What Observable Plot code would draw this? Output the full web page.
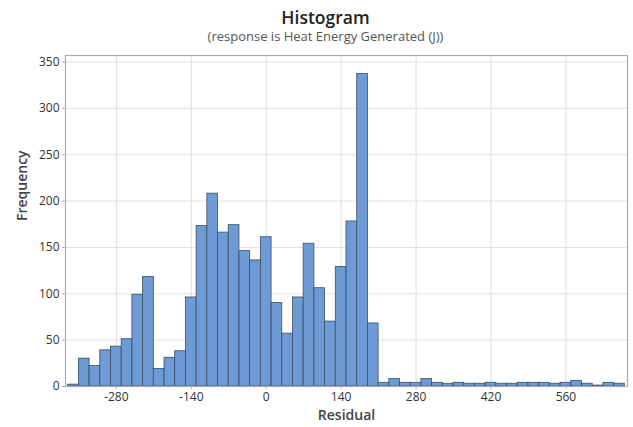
<!DOCTYPE html>
<html>
<head>
<meta charset="utf-8">
<script src="https://cdn.jsdelivr.net/npm/d3@7"></script>
<script src="https://cdn.jsdelivr.net/npm/@observablehq/plot@0.6"></script>
<style>
  html, body { margin: 0; padding: 0; background: #fff; }
  #wrap { width: 633px; height: 427px; position: relative; font-family: "Open Sans", "Noto Sans", sans-serif; }
  #title { position: absolute; left: 18px; width: 615px; top: 6px; text-align: center; font-size: 17.5px; font-weight: 600; color: #222; line-height: 22px; }
  #subtitle { position: absolute; left: 18px; width: 615px; top: 27px; text-align: center; font-size: 13px; color: #555; line-height: 18px; }
  #chart { position: absolute; left: 0; top: 48px; }
</style>
</head>
<body>
<div id="wrap">
  <div id="title">Histogram</div>
  <div id="subtitle">(response is Heat Energy Generated (J))</div>
  <div id="chart"></div>
</div>
<script>
const binMidpoints = [-360, -340, -320, -300, -280, -260, -240, -220, -200, -180, -160, -140, -120, -100, -80, -60, -40, -20,
  0, 20, 40, 60, 80, 100, 120, 140, 160, 180, 200, 220, 240, 260, 280, 300, 320, 340, 360, 380, 400, 420, 440, 460, 480,
  500, 520, 540, 560, 580, 600, 620, 640, 660];
const frequencies = [2, 30, 22, 39, 43, 51, 99, 118, 19, 31, 38, 96, 173, 208, 166, 174, 146, 136,
  161, 90, 57, 96, 154, 106, 70, 129, 178, 337, 68, 4, 8, 4, 4, 8, 4, 3, 4, 3, 3, 4, 3, 3, 4,
  4, 4, 3, 4, 6, 3, 1, 4, 3];
const binWidth = 20;
const xTicks = [-280, -140, 0, 140, 280, 420, 560];
const yTicks = [0, 50, 100, 150, 200, 250, 300, 350];

const bins = binMidpoints.map((m, i) => ({x1: m - binWidth / 2, x2: m + binWidth / 2, count: frequencies[i]}));

const chart = Plot.plot({
  width: 633,
  height: 379,
  marginLeft: 65,
  marginRight: 6,
  marginTop: 7,
  marginBottom: 41,
  style: {fontFamily: "'Open Sans', 'Noto Sans', sans-serif", fontSize: "12px", color: "#333", background: "#fff"},
  x: {domain: [-375, 675], ticks: xTicks},
  y: {domain: [0, 357], ticks: yTicks},
  marks: [
    Plot.gridX(xTicks, {stroke: "#dcdcdc", strokeOpacity: 1}),
    Plot.gridY(yTicks, {stroke: "#e2e2e2", strokeOpacity: 1}),
    Plot.rectY(bins, {x1: "x1", x2: "x2", y: "count", fill: "#6c9bd5", stroke: "#3d4c60", strokeWidth: 0.8}),
    Plot.frame({stroke: "#a9aeb5", strokeWidth: 1.2}),
    Plot.axisX(xTicks, {label: null, tickSize: 3, tickPadding: 3, stroke: "#a9aeb5", fontSize: 12, fill: "#333", tickFormat: d => String(d)}),
    Plot.axisY(yTicks, {label: null, tickSize: 3, tickPadding: 3, stroke: "#a9aeb5", fontSize: 12, fill: "#333", tickFormat: d => String(d)}),
    Plot.text(["Residual"], {frameAnchor: "bottom", dy: 33, fontSize: 14, fill: "#444", fontWeight: 600}),
    Plot.text(["Frequency"], {frameAnchor: "left", dx: -43, rotate: -90, fontSize: 14, fill: "#444", fontWeight: 600})
  ]
});
document.getElementById("chart").appendChild(chart);
</script>
</body>
</html>
